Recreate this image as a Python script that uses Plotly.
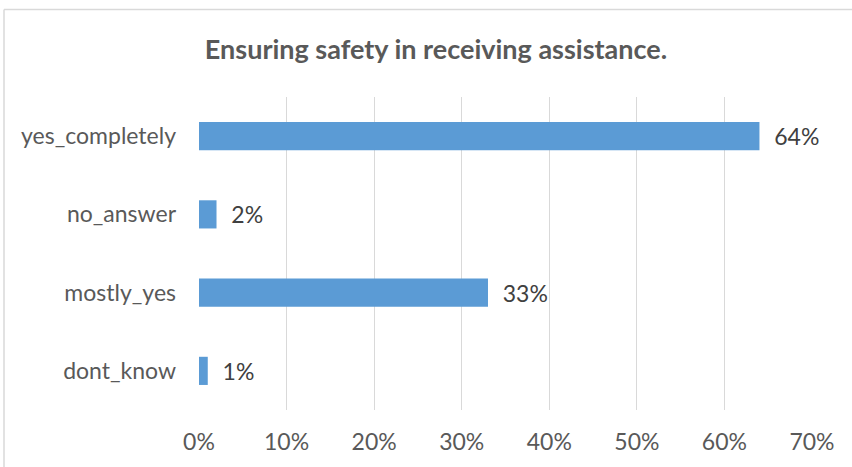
import plotly.graph_objects as go

# Survey responses, listed bottom to top as they appear on the y axis
categories = ["dont_know", "mostly_yes", "no_answer", "yes_completely"]
shares = [0.01, 0.33, 0.02, 0.64]
tick_values = [0, 0.1, 0.2, 0.3, 0.4, 0.5, 0.6, 0.7]
tick_labels = ["0%", "10%", "20%", "30%", "40%", "50%", "60%", "70%"]

W, H = 852, 467
L, R, T, B = 199, 40, 97, 55
plot_w = W - L - R
plot_h = H - T - B

FONT = "Lato, Open Sans, sans-serif"
TEXT = "#595959"
GRID = "#D9D9D9"

fig = go.Figure(
    go.Bar(
        x=shares,
        y=categories,
        orientation="h",
        marker=dict(color="#5B9BD5", line=dict(width=0)),
        width=0.36,
        text=shares,
        texttemplate="  %{x:.0%}",
        textposition="outside",
        textfont=dict(family=FONT, size=23, color="#404040"),
        cliponaxis=False,
        hoverinfo="skip",
    )
)

fig.update_layout(
    width=W,
    height=H,
    margin=dict(l=L, r=R, t=T, b=B),
    paper_bgcolor="white",
    plot_bgcolor="white",
    showlegend=False,
    title=dict(
        text="<b>Ensuring safety in receiving assistance.</b>",
        x=436 / W,
        xanchor="center",
        y=1 - 50 / H,
        yanchor="middle",
        font=dict(family=FONT, size=27, color=TEXT),
    ),
    xaxis=dict(
        range=[0, 0.7],
        tickvals=tick_values,
        ticktext=tick_labels,
        showgrid=True,
        gridcolor=GRID,
        gridwidth=1,
        zeroline=False,
        showline=False,
        ticks="",
        ticklabelstandoff=16,
        tickfont=dict(family=FONT, size=23, color=TEXT),
    ),
    yaxis=dict(
        categoryorder="array",
        categoryarray=categories,
        showgrid=False,
        zeroline=False,
        showline=False,
        ticks="",
        ticklabelstandoff=22,
        tickfont=dict(family=FONT, size=23, color=TEXT),
    ),
    shapes=[
        # chart frame: top and left edges
        dict(type="line", xref="paper", yref="paper",
             x0=(4 - L) / plot_w, x1=(W + 10 - L) / plot_w,
             y0=1 + (T - 9) / plot_h, y1=1 + (T - 9) / plot_h,
             line=dict(color=GRID, width=1.5)),
        dict(type="line", xref="paper", yref="paper",
             x0=(4 - L) / plot_w, x1=(4 - L) / plot_w,
             y0=1 + (T - 9) / plot_h, y1=-(B + 10) / plot_h,
             line=dict(color=GRID, width=1.5)),
    ],
)

fig.write_html("out.html")
